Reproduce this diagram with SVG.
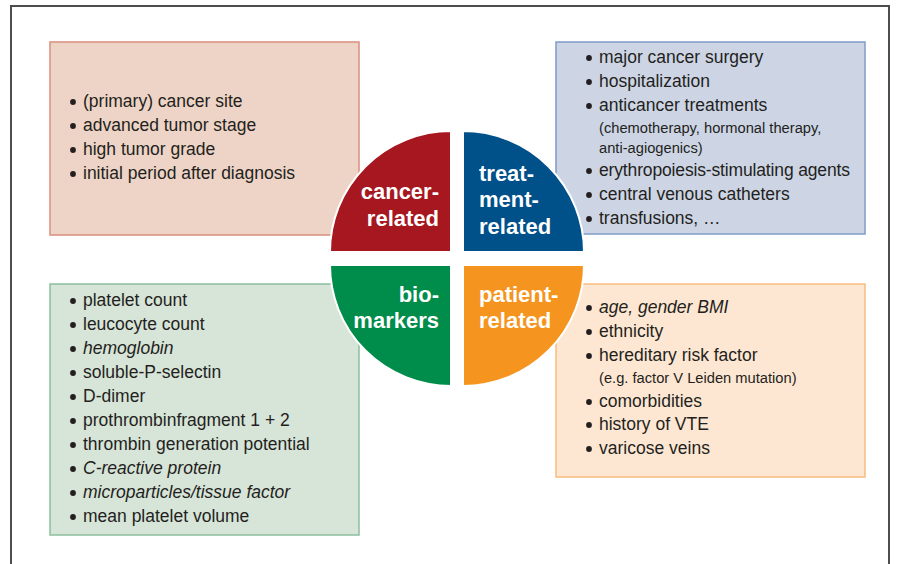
<svg xmlns="http://www.w3.org/2000/svg" width="904" height="564" viewBox="0 0 904 564">
  <style>
    .frame { fill: none; stroke: #4d4d4d; stroke-width: 2; }
    .box { stroke-width: 1.5; }
    .item { font-family: "Liberation Sans", Arial, sans-serif; font-size: 17.5px; fill: #231f20; }
    .note { font-family: "Liberation Sans", Arial, sans-serif; font-size: 14.7px; fill: #231f20; }
    .it { font-style: italic; }
    .dot { fill: #231f20; }
    .quad { stroke: #ffffff; stroke-width: 2; }
    .lab { font-family: "Liberation Sans", Arial, sans-serif; font-size: 22px; font-weight: bold; fill: #ffffff; }
    .r { text-anchor: end; }
  </style>
  <defs>
    <circle id="bullet" class="dot" r="2.9"/>
  </defs>

  <rect width="904" height="564" fill="#ffffff"/>
  <!-- outer frame, open at the bottom -->
  <path class="frame" d="M11,570 L11,6 L889,6 L889,570"/>

  <!-- cancer-related factors -->
  <g id="cancer-box">
    <rect class="box" x="50" y="42" width="309" height="193" fill="#eed4c6" stroke="#d98e7d"/>
    <use href="#bullet" x="73" y="102"/><text class="item" x="83" y="107">(primary) cancer site</text>
    <use href="#bullet" x="73" y="126"/><text class="item" x="83" y="131">advanced tumor stage</text>
    <use href="#bullet" x="73" y="150"/><text class="item" x="83" y="155">high tumor grade</text>
    <use href="#bullet" x="73" y="174"/><text class="item" x="83" y="179">initial period after diagnosis</text>
  </g>

  <!-- treatment-related factors -->
  <g id="treatment-box">
    <rect class="box" x="556" y="42" width="309" height="192" fill="#cdd5e5" stroke="#7f9bc7"/>
    <use href="#bullet" x="589" y="58"/><text class="item" x="599" y="63">major cancer surgery</text>
    <use href="#bullet" x="589" y="82"/><text class="item" x="599" y="87">hospitalization</text>
    <use href="#bullet" x="589" y="106"/><text class="item" x="599" y="111">anticancer treatments</text>
    <text class="note" x="599" y="133">(chemotherapy, hormonal therapy,</text>
    <text class="note" x="599" y="153">anti-agiogenics)</text>
    <use href="#bullet" x="589" y="171"/><text class="item" x="599" y="176" textLength="251">erythropoiesis-stimulating agents</text>
    <use href="#bullet" x="589" y="195"/><text class="item" x="599" y="200">central venous catheters</text>
    <use href="#bullet" x="589" y="219"/><text class="item" x="599" y="224">transfusions, …</text>
  </g>

  <!-- biomarkers -->
  <g id="biomarkers-box">
    <rect class="box" x="50" y="284" width="309" height="251" fill="#d7e4d8" stroke="#8cbf9e"/>
    <use href="#bullet" x="73" y="301"/><text class="item" x="83" y="306">platelet count</text>
    <use href="#bullet" x="73" y="325"/><text class="item" x="83" y="330">leucocyte count</text>
    <use href="#bullet" x="73" y="349"/><text class="item it" x="83" y="354">hemoglobin</text>
    <use href="#bullet" x="73" y="373"/><text class="item" x="83" y="378">soluble-P-selectin</text>
    <use href="#bullet" x="73" y="397"/><text class="item" x="83" y="402">D-dimer</text>
    <use href="#bullet" x="73" y="421"/><text class="item" x="83" y="426">prothrombinfragment 1 + 2</text>
    <use href="#bullet" x="73" y="445"/><text class="item" x="83" y="450">thrombin generation potential</text>
    <use href="#bullet" x="73" y="469"/><text class="item it" x="83" y="474">C-reactive protein</text>
    <use href="#bullet" x="73" y="493"/><text class="item it" x="83" y="498">microparticles/tissue factor</text>
    <use href="#bullet" x="73" y="517"/><text class="item" x="83" y="522">mean platelet volume</text>
  </g>

  <!-- patient-related factors -->
  <g id="patient-box">
    <rect class="box" x="556" y="284" width="309" height="193" fill="#fee7d2" stroke="#f7bd80"/>
    <use href="#bullet" x="589" y="308"/><text class="item it" x="599" y="313">age, gender BMI</text>
    <use href="#bullet" x="589" y="332"/><text class="item" x="599" y="337">ethnicity</text>
    <use href="#bullet" x="589" y="356"/><text class="item" x="599" y="361">hereditary risk factor</text>
    <text class="note" x="599" y="383">(e.g. factor V Leiden mutation)</text>
    <use href="#bullet" x="589" y="402"/><text class="item" x="599" y="407">comorbidities</text>
    <use href="#bullet" x="589" y="425"/><text class="item" x="599" y="430">history of VTE</text>
    <use href="#bullet" x="589" y="449"/><text class="item" x="599" y="454">varicose veins</text>
  </g>

  <!-- central circle, four quadrants -->
  <g id="cancer-related">
    <path class="quad" d="M451,252 L330,252 A121,121 0 0 1 451,131 Z" fill="#a6171f"/>
    <text class="lab r" x="439" y="199">cancer-</text>
    <text class="lab r" x="439" y="226">related</text>
  </g>
  <g id="treatment-related">
    <path class="quad" d="M463,252 L463,131 A121,121 0 0 1 584,252 Z" fill="#00508a"/>
    <text class="lab" x="479" y="181">treat-</text>
    <text class="lab" x="479" y="207">ment-</text>
    <text class="lab" x="479" y="234">related</text>
  </g>
  <g id="biomarkers">
    <path class="quad" d="M451,265 L451,386 A121,121 0 0 1 330,265 Z" fill="#008c4a"/>
    <text class="lab r" x="439" y="302">bio-</text>
    <text class="lab r" x="439" y="328">markers</text>
  </g>
  <g id="patient-related">
    <path class="quad" d="M463,265 L584,265 A121,121 0 0 1 463,386 Z" fill="#f5951f"/>
    <text class="lab" x="479" y="302">patient-</text>
    <text class="lab" x="479" y="328">related</text>
  </g>
</svg>
